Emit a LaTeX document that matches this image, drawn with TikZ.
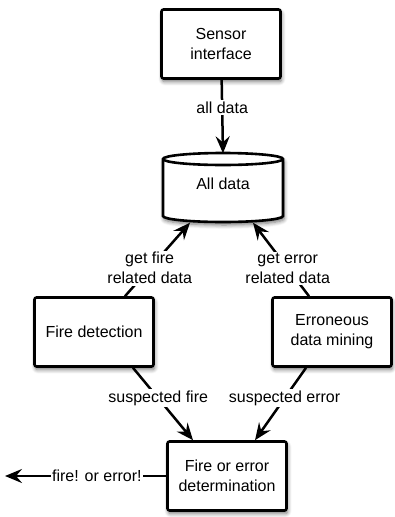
\documentclass[tikz,border=0pt]{standalone}
\usepackage{fontspec}
\setmainfont{Liberation Sans}
\usetikzlibrary{arrows.meta,shadows.blur}
\begin{document}
\begin{tikzpicture}[x=1pt,y=-1pt,
  font=\fontsize{16}{20}\selectfont,
  soft/.style={blur shadow={shadow xshift=1pt, shadow yshift=-3pt,
      shadow blur steps=6, shadow blur radius=4pt, shadow opacity=55}},
  box/.style={draw, line width=2.6pt, rounded corners=2pt, fill=white,
      minimum width=119, minimum height=69, align=center, inner sep=2pt, soft},
  flow/.style={line width=2.5pt, -{Stealth[length=17pt,width=14pt,inset=6pt]}},
  lab/.style={fill=white, inner sep=1.5pt, align=center}]
\useasboundingbox (0,0) rectangle (395,517);

% processing steps
\node[box] (sensor) at (221,44) {Sensor\\interface};
\node[box] (fire) at (94,332) {Fire detection};
\node[box] (err) at (332,332) {Erroneous\\data mining};
\node[box] (det) at (227,476) {Fire or error\\determination};

% data store drawn as a cylinder around an invisible anchor node
\node[minimum width=120, minimum height=69, inner sep=0] (db) at (223,188) {};
\path[draw, line width=2.6pt, fill=white, soft]
  (163,159) -- (163,216)
  arc[start angle=180, end angle=0, x radius=60, y radius=6]
  -- (283,159)
  arc[start angle=0, end angle=-180, x radius=60, y radius=6] -- cycle;
\draw[line width=2.6pt] (163,159)
  arc[start angle=180, end angle=0, x radius=60, y radius=6];
\node[inner sep=0] (dblabel) at ([yshift=4]db.center) {All data};

% data flows
\draw[flow] (sensor) -- (db.north) node[lab, pos=0.38] {all data};
\draw[flow] ([xshift=31]fire.north) -- ([xshift=-33]db.south)
  node[lab, pos=0.38] {get fire\\related data};
\draw[flow] ([xshift=-23]err.north) -- ([xshift=30]db.south)
  node[lab, pos=0.38] {get error\\related data};
\draw[flow] ([xshift=39]fire.south) -- ([xshift=-34]det.north)
  node[lab, pos=0.42] {suspected fire};
\draw[flow] ([xshift=-26]err.south) -- ([xshift=28]det.north)
  node[lab, pos=0.42] {suspected error};
\coordinate (out) at (5,476);
\draw[flow] (det.west) -- (out) node[lab, pos=0.43] {fire! or error!};
\end{tikzpicture}
\end{document}
